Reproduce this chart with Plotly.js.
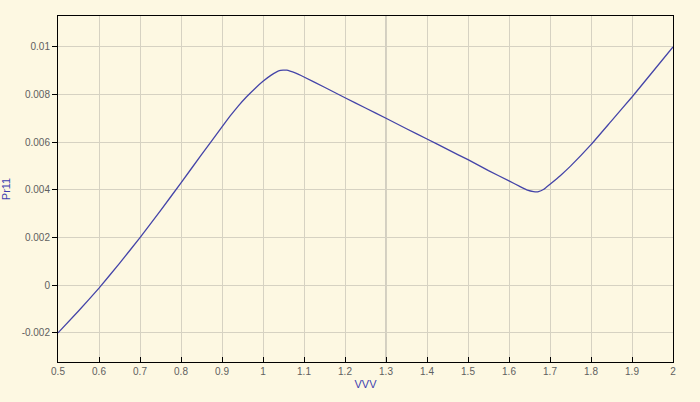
<!DOCTYPE html>
<html>
<head>
<meta charset="utf-8">
<script src="https://cdn.plot.ly/plotly-3.0.1.min.js"></script>
<style>
  html, body { margin: 0; padding: 0; background: #fdf8e2; }
  #chart { width: 700px; height: 402px; }
</style>
</head>
<body>
<div id="chart"></div>
<script>
// values ------------------------------------------------------------------
var vvv = [0.5, 0.55, 0.6, 0.65, 0.7, 0.75, 0.8, 0.85, 0.9, 0.92, 0.94, 0.96,
           0.98, 1.0, 1.02, 1.04, 1.058, 1.08, 1.1, 1.15, 1.2, 1.25, 1.3, 1.35,
           1.4, 1.45, 1.5, 1.55, 1.6, 1.625, 1.645, 1.66, 1.672, 1.685, 1.7,
           1.725, 1.75, 1.8, 1.85, 1.9, 1.95, 2.0];
var pr11 = [-0.0020, -0.00108, -0.00012, 0.00092, 0.0020, 0.00313, 0.0043, 0.00548,
            0.00665, 0.00711, 0.00753, 0.00791, 0.00825, 0.00856, 0.00882,
            0.00901, 0.00903, 0.00890, 0.00874, 0.00831, 0.00787, 0.00744,
            0.00701, 0.00657, 0.00614, 0.00570, 0.00527, 0.00481, 0.00438,
            0.00416, 0.00399, 0.00393, 0.00393, 0.00403, 0.00424, 0.0046,
            0.0050, 0.0059, 0.0069, 0.0079, 0.00895, 0.0100];

var xTicks = [0.5, 0.6, 0.7, 0.8, 0.9, 1, 1.1, 1.2, 1.3, 1.4, 1.5, 1.6, 1.7, 1.8, 1.9, 2];
var xLabels = ["0.5", "0.6", "0.7", "0.8", "0.9", "1", "1.1", "1.2", "1.3", "1.4",
               "1.5", "1.6", "1.7", "1.8", "1.9", "2"];
var yTicks = [-0.002, 0, 0.002, 0.004, 0.006, 0.008, 0.01];
var yLabels = ["-0.002", "0", "0.002", "0.004", "0.006", "0.008", "0.01"];

// plot --------------------------------------------------------------------
var data = [
    { x: vvv, y: pr11, mode: "lines", name: "Pr11",
      line: { color: "#4444a8", width: 1.3, shape: "spline", smoothing: 0.3 } }
];

var tickFont = { family: "Liberation Sans, Arial, sans-serif", size: 10, color: "#606060" };
var titleFont = { family: "Liberation Sans, Arial, sans-serif", size: 11, color: "#4040b0" };

var layout = {
    width: 700,
    height: 402,
    margin: { l: 58, r: 27, t: 16, b: 40 },
    paper_bgcolor: "#fdf8e2",
    plot_bgcolor: "#fdf8e2",
    showlegend: false,
    xaxis: {
        range: [0.5, 2],
        tickvals: xTicks,
        ticktext: xLabels,
        tickfont: tickFont,
        ticks: "inside",
        ticklen: 5,
        tickcolor: "#000000",
        showline: true,
        linecolor: "#000000",
        linewidth: 1,
        mirror: true,
        showgrid: true,
        gridcolor: "#d6d2c2",
        zeroline: false,
        title: { text: "VVV", font: titleFont, standoff: 4 }
    },
    yaxis: {
        range: [-0.00322, 0.0113],
        tickvals: yTicks,
        ticktext: yLabels,
        tickfont: tickFont,
        ticks: "outside",
        ticklen: 5,
        tickcolor: "#000000",
        showline: true,
        linecolor: "#000000",
        linewidth: 1,
        mirror: true,
        showgrid: true,
        gridcolor: "#d6d2c2",
        zeroline: false,
        title: { text: "Pr11", font: titleFont, standoff: 12 }
    },
    shapes: [
        { type: "line", xref: "x", yref: "paper", x0: 1.3, x1: 1.3, y0: 0, y1: 1,
          line: { color: "#a8a6a0", width: 1 }, layer: "below" }
    ]
};

Plotly.newPlot("chart", data, layout, { displayModeBar: false, staticPlot: true });
</script>
</body>
</html>
